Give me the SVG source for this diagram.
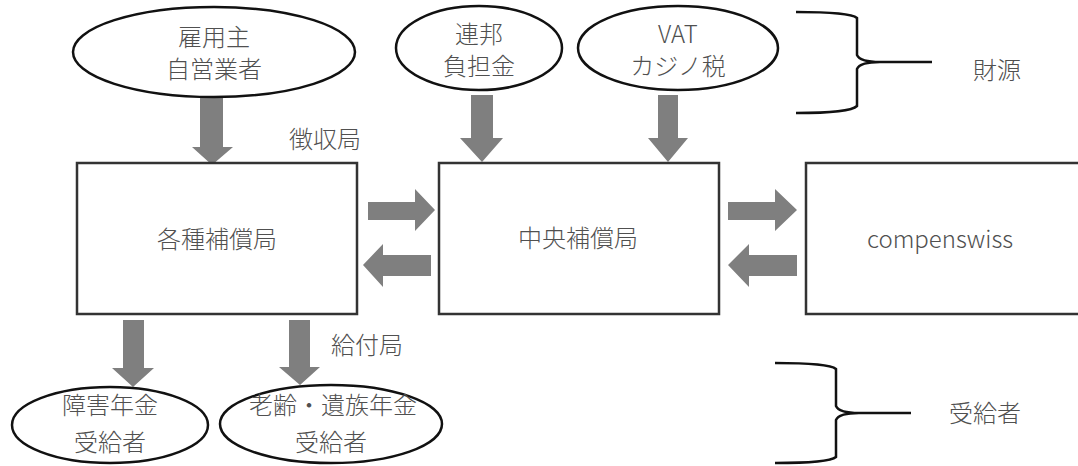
<svg xmlns="http://www.w3.org/2000/svg" width="1078" height="466" viewBox="0 0 1078 466">
<style>
.t{font-family:"Noto Sans CJK JP","Noto Sans",sans-serif;font-size:24px;font-weight:300;fill:#505050;text-anchor:middle}
.el{fill:#fff;stroke:#111;stroke-width:2.5}
.bx{fill:#fff;stroke:#333;stroke-width:2.5}
.ar{fill:#7f7f7f}
.br{fill:none;stroke:#111;stroke-width:2.5}
</style>
<rect width="1078" height="466" fill="#fff"/>
<g id="connectors">
<polygon class="ar" points="200,97 223,97 223,147 233,147 212,165 192,147 200,147"/>
<polygon class="ar" points="471,95 493,95 493,138 503,138 482,162 460,138 471,138"/>
<polygon class="ar" points="658,95 678,95 678,138 688,138 668,162 648,138 658,138"/>
<polygon class="ar" points="368,202 415,202 415,189 435,210 415,231 415,220 368,220"/>
<polygon class="ar" points="431,255 383,255 383,244 363,265 383,287 383,276 431,276"/>
<polygon class="ar" points="728,202 775,202 775,189 797,210 775,231 775,220 728,220"/>
<polygon class="ar" points="797,255 749,255 749,244 728,265 749,287 749,276 797,276"/>
<polygon class="ar" points="123,320 144,320 144,368 154,368 133,387 112,368 123,368"/>
<polygon class="ar" points="289,320 310,320 310,367 320,367 300,385 279,367 289,367"/>
</g>
<g id="n-employer">
<ellipse class="el" cx="214" cy="52" rx="141" ry="45"/>
<text class="t" x="214" y="46">雇用主</text>
<text class="t" x="214" y="78">自営業者</text>
</g>
<g id="n-federal">
<ellipse class="el" cx="479" cy="48" rx="83" ry="42"/>
<text class="t" x="479" y="43">連邦</text>
<text class="t" x="479" y="75">負担金</text>
</g>
<g id="n-vat">
<ellipse class="el" cx="678" cy="48" rx="100" ry="42"/>
<text class="t" x="678" y="43">VAT</text>
<text class="t" x="678" y="75">カジノ税</text>
</g>
<g id="n-agencies">
<rect class="bx" x="77" y="163" width="280" height="151"/>
<text class="t" x="217" y="248">各種補償局</text>
</g>
<g id="n-central">
<rect class="bx" x="439" y="163" width="280" height="151"/>
<text class="t" x="578" y="247">中央補償局</text>
</g>
<g id="n-compenswiss">
<rect class="bx" x="806" y="163" width="290" height="151"/>
<text class="t" x="940" y="248">compenswiss</text>
</g>
<g id="n-disability">
<ellipse class="el" cx="110" cy="425" rx="98" ry="38"/>
<text class="t" x="110" y="414">障害年金</text>
<text class="t" x="110" y="451">受給者</text>
</g>
<g id="n-oldage">
<ellipse class="el" cx="331" cy="424" rx="111" ry="39"/>
<text class="t" x="333" y="414">老齢・遺族年金</text>
<text class="t" x="331" y="451">受給者</text>
</g>
<g id="labels">
<text class="t" x="325" y="148">徴収局</text>
<text class="t" x="367" y="354">給付局</text>
</g>
<g id="brace-source">
<path class="br" d="M796,12 Q850,12 857,18 L857,55 Q860,62 880,62 L932,62 M880,62 Q860,62 857,69 L857,106 Q850,113 796,113"/>
<text class="t" x="997" y="79">財源</text>
</g>
<g id="brace-recipients">
<path class="br" d="M775,363 Q829,363 836,369 L836,406 Q839,413 859,413 L911,413 M859,413 Q839,413 836,420 L836,457 Q829,463 775,463"/>
<text class="t" x="985" y="422">受給者</text>
</g>
</svg>
